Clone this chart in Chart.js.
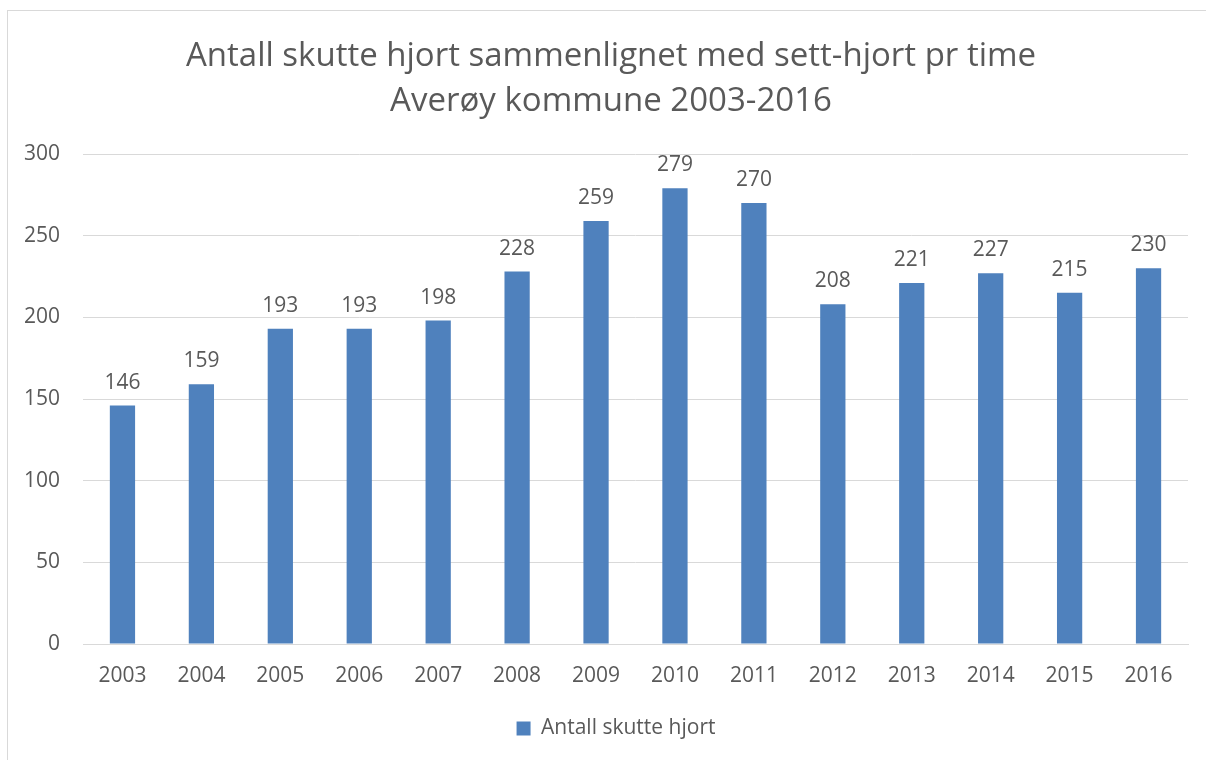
<!DOCTYPE html>
<html>
<head>
<meta charset="utf-8">
<script src="https://cdn.jsdelivr.net/npm/chart.js@4/dist/chart.umd.min.js"></script>
<style>
  body { margin: 0; background: #fff; }
  #wrap { position: relative; width: 1206px; height: 760px; overflow: hidden; }
  #frame { position: absolute; left: 7px; top: 10px; width: 1220px; height: 780px; border: 1px solid #d9d9d9; }
  canvas { position: absolute; left: 0; top: 0; }
</style>
</head>
<body>
<div id="wrap">
  <div id="frame"></div>
  <canvas id="chart" width="1206" height="760"></canvas>
</div>
<script>
// verdier lest av diagrammet
const years = ["2003", "2004", "2005", "2006", "2007", "2008", "2009", "2010", "2011", "2012", "2013", "2014", "2015", "2016"];
const skutteHjort = [146, 159, 193, 193, 198, 228, 259, 279, 270, 208, 221, 227, 215, 230];
const titleLines = ["Antall skutte hjort sammenlignet med sett-hjort pr time", "Averøy kommune 2003-2016"];
const seriesName = "Antall skutte hjort";

const textColor = "#595959";
const font = "'Open Sans', 'Noto Sans', sans-serif";

// skriver verdien over hver søyle
const valueLabels = {
  id: "valueLabels",
  afterDatasetsDraw(chart) {
    const ctx = chart.ctx;
    const meta = chart.getDatasetMeta(0);
    ctx.save();
    ctx.fillStyle = textColor;
    ctx.font = "21px " + font;
    ctx.textAlign = "center";
    ctx.textBaseline = "middle";
    meta.data.forEach((bar, i) => {
      ctx.fillText(String(skutteHjort[i]), bar.x, bar.y - 23);
    });
    ctx.restore();
  }
};

// tittel og legende står litt til høyre for midten i originalen
const shiftBoxes = {
  id: "shiftBoxes",
  afterUpdate(chart) {
    const title = chart.titleBlock;
    if (title) {
      title.left += 17;
      title.right += 17;
    }
    const legend = chart.legend;
    if (legend) {
      legend.left += 22;
      legend.right += 22;
      legend.adjustHitBoxes();
    }
  }
};

const ctx = document.getElementById("chart").getContext("2d");
new Chart(ctx, {
  type: "bar",
  data: {
    labels: years,
    datasets: [
      {
        label: seriesName,
        data: skutteHjort,
        backgroundColor: "#4f81bd",
        borderWidth: 0,
        categoryPercentage: 1,
        barPercentage: 0.32,
      },
    ],
  },
  options: {
    responsive: false,
    animation: false,
    layout: {
      padding: { top: 0, left: 0, right: 18, bottom: 11 },
    },
    plugins: {
      title: {
        display: true,
        text: titleLines,
        color: textColor,
        font: { family: font, size: 33, weight: "normal", lineHeight: 1.364 },
        padding: { top: 34, bottom: 30 },
      },
      legend: {
        display: true,
        position: "bottom",
        labels: {
          color: textColor,
          font: { family: font, size: 21 },
          boxWidth: 14,
          boxHeight: 14,
          padding: 10,
        },
      },
      tooltip: { enabled: false },
    },
    scales: {
      x: {
        grid: { display: false },
        border: { display: true, color: "#d9d9d9", width: 1 },
        ticks: {
          color: textColor,
          font: { family: font, size: 21 },
          padding: 11,
          maxRotation: 0,
        },
        afterFit(scale) {
          scale.height = 64;
        },
      },
      y: {
        min: 0,
        max: 300,
        grid: { color: "#d9d9d9", drawTicks: false },
        border: { display: false },
        ticks: {
          stepSize: 50,
          color: textColor,
          font: { family: font, size: 21 },
          padding: 23,
        },
        afterFit(scale) {
          scale.width = 83;
        },
      },
    },
  },
  plugins: [valueLabels, shiftBoxes],
});
</script>
</body>
</html>
